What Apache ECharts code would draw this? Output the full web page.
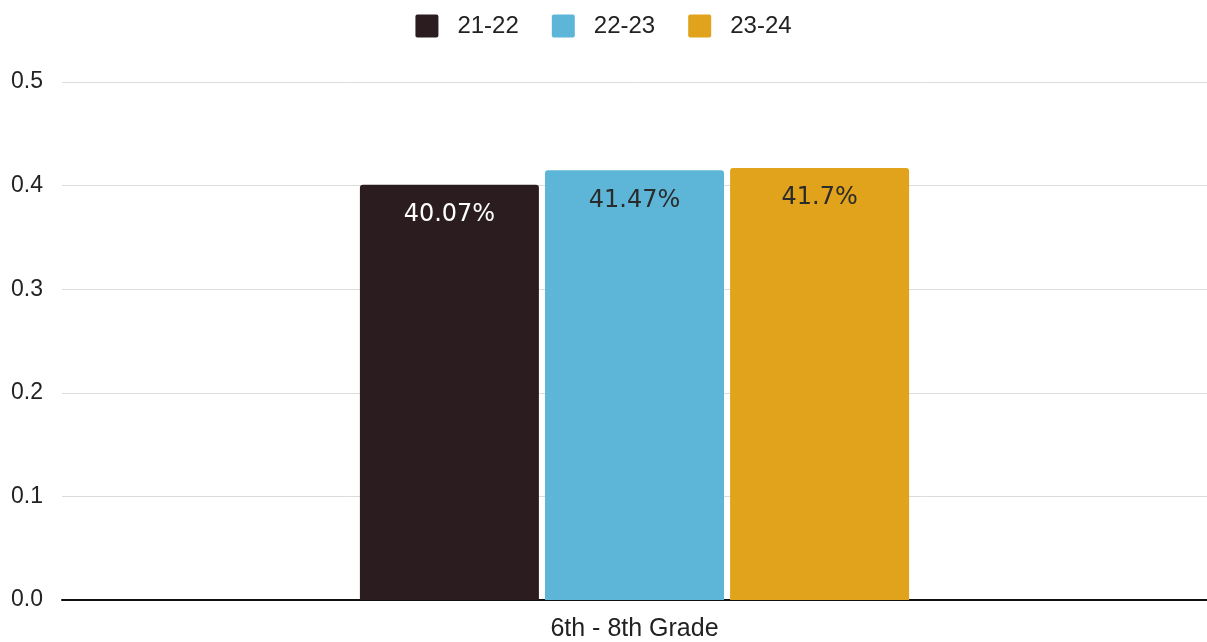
<!DOCTYPE html>
<html>
<head>
<meta charset="utf-8">
<script src="https://cdn.jsdelivr.net/npm/echarts@6/dist/echarts.min.js"></script>
<style>
  html, body { margin: 0; padding: 0; background: #fff; }
  #chart { width: 1207px; height: 642px; }
</style>
</head>
<body>
<div id="chart"></div>
<script>
// Share of students per school year, 6th - 8th Grade
const categories = ['6th - 8th Grade'];
const seriesNames = ['21-22', '22-23', '23-24'];
const values2122 = [0.4007];
const values2223 = [0.4147];
const values2324 = [0.417];
const yTicks = [0, 0.1, 0.2, 0.3, 0.4, 0.5];

const colors = ['#2b1c20', '#5db6d7', '#e0a31b'];
const labelColors = ['#ffffff', '#2b2b2b', '#2b2b2b'];
const seriesValues = [values2122, values2223, values2324];

// square legend marker with slightly rounded corners
const legendIcon = 'path://M2,0 L21,0 Q23,0 23,2 L23,21 Q23,23 21,23 L2,23 Q0,23 0,21 L0,2 Q0,0 2,0 Z';

const chart = echarts.init(document.getElementById('chart'));

const series = seriesNames.map((name, i) => ({
  name: name,
  type: 'bar',
  data: seriesValues[i],
  barWidth: 179,
  barGap: '3.4%',
  itemStyle: { color: colors[i], borderRadius: [3, 3, 0, 0] },
  label: {
    show: true,
    position: 'insideTop',
    distance: 18,
    fontFamily: 'DejaVu Sans',
    fontSize: 24,
    color: labelColors[i],
    formatter: p => (Math.round(p.value * 10000) / 100) + '%'
  }
}));

chart.setOption({
  animation: false,
  textStyle: { fontFamily: 'Liberation Sans' },
  legend: {
    top: 9,
    left: 'center',
    itemWidth: 23,
    itemHeight: 23,
    itemGap: 33,
    icon: legendIcon,
    textStyle: { fontSize: 24, color: '#222', fontFamily: 'Liberation Sans', padding: [0, 0, 0, 14] },
    data: seriesNames
  },
  grid: { left: 62, right: 0, top: 82, bottom: 40, containLabel: false },
  xAxis: {
    type: 'category',
    data: categories,
    axisLine: { lineStyle: { color: '#111', width: 2 } },
    axisTick: { show: false },
    axisLabel: { fontSize: 25, color: '#222', margin: 17, fontFamily: 'Liberation Sans' }
  },
  yAxis: {
    type: 'value',
    min: yTicks[0],
    max: yTicks[yTicks.length - 1],
    interval: 0.1,
    axisLine: { show: false },
    axisTick: { show: false },
    splitLine: { lineStyle: { color: '#dcdcdc', width: 1 } },
    axisLabel: {
      fontSize: 23,
      color: '#222',
      margin: 19,
      fontFamily: 'Liberation Sans',
      formatter: v => v.toFixed(1)
    }
  },
  series: series
});
</script>
</body>
</html>
